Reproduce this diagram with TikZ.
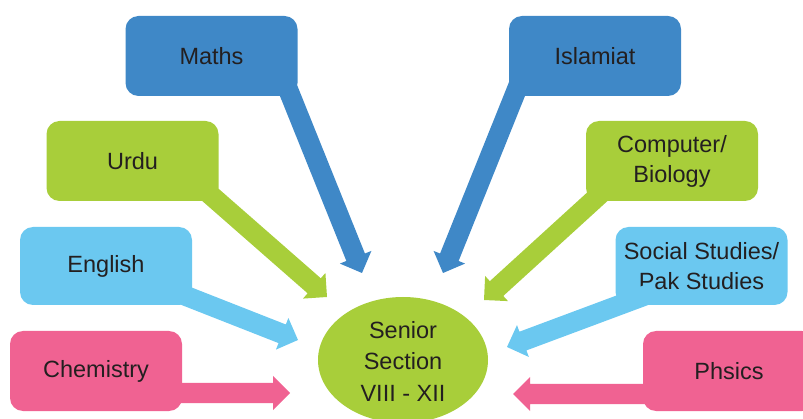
\documentclass[tikz,border=0pt]{standalone}
\usepackage{fontspec}
\setmainfont{Liberation Sans}
\usetikzlibrary{calc}
\definecolor{cblue}{HTML}{3F88C7}
\definecolor{cgreen}{HTML}{A8CE3A}
\definecolor{clblue}{HTML}{6BC8F0}
\definecolor{cpink}{HTML}{F06292}
\definecolor{ctext}{HTML}{231F20}
\newcommand{\blockarr}[3]{%
  \coordinate (ba-A) at ($(#2)!-20pt!(#3)$);
  \coordinate (ba-C) at ($(#3)!17pt!(#2)$);
  \fill[#1] ($(ba-A)!10pt!90:(#3)$) -- ($(ba-C)!10pt!-90:(ba-A)$) -- ($(ba-C)!17pt!-90:(ba-A)$)
    -- (#3) -- ($(ba-C)!17pt!90:(ba-A)$) -- ($(ba-C)!10pt!90:(ba-A)$) -- ($(ba-A)!10pt!-90:(#3)$) -- cycle;
}
\tikzset{
  box/.style={rounded corners=13pt, minimum width=172pt, minimum height=80pt, inner sep=0pt, outer sep=0pt,
    text=ctext, align=center, font=\fontsize{23.5}{30}\selectfont},
}
\begin{document}
\begin{tikzpicture}[x=1pt,y=-1pt]
\useasboundingbox (0,0) rectangle (803,419);
\clip (0,0) rectangle (803,419);
% center ellipse
\fill[cgreen] (403,360) ellipse [x radius=85pt, y radius=63pt];
\node[text=ctext, align=center, font=\fontsize{23.5}{31.5}\selectfont] (senior) at (403,361) {Senior\\Section\\VIII - XII};
% boxes
\node[box, fill=cblue] (maths) at (211.5,56) {Maths};
\node[box, fill=cblue] (islamiat) at (595,56) {Islamiat};
\node[box, fill=cgreen] (urdu) at (132.5,161) {Urdu};
\node[box, fill=cgreen] (computer) at (672,161) {Computer/\\Biology};
\node[box, fill=clblue, minimum height=78pt] (english) at (106,266) {English};
\node[box, fill=clblue, minimum height=78pt] (social) at (701.5,266) {Social Studies/\\Pak Studies};
\node[box, fill=cpink] (chemistry) at (96,371) {Chemistry};
\node[box, fill=cpink] (phsics) at (729,371) {Phsics};
% arrow start and tip coordinates
\coordinate (mMaths) at (288.5,90.5);   \coordinate (tMaths) at (362,273);
\coordinate (mIsl) at (517,89);          \coordinate (tIsl) at (443,273);
\coordinate (mUrdu) at (210,194.5);      \coordinate (tUrdu) at (327,297);
\coordinate (mComp) at (596.5,197.5);    \coordinate (tComp) at (484,300);
\coordinate (mEng) at (186,296);         \coordinate (tEng) at (298,340);
\coordinate (mSoc) at (633,300);         \coordinate (tSoc) at (507,347);
\coordinate (mChem) at (182,393);        \coordinate (tChem) at (290,393);
\coordinate (mPhy) at (643,394);         \coordinate (tPhy) at (513,394);
\blockarr{cblue}{mMaths}{tMaths}
\blockarr{cblue}{mIsl}{tIsl}
\blockarr{cgreen}{mUrdu}{tUrdu}
\blockarr{cgreen}{mComp}{tComp}
\blockarr{clblue}{mEng}{tEng}
\blockarr{clblue}{mSoc}{tSoc}
\blockarr{cpink}{mChem}{tChem}
\blockarr{cpink}{mPhy}{tPhy}
\end{tikzpicture}
\end{document}
